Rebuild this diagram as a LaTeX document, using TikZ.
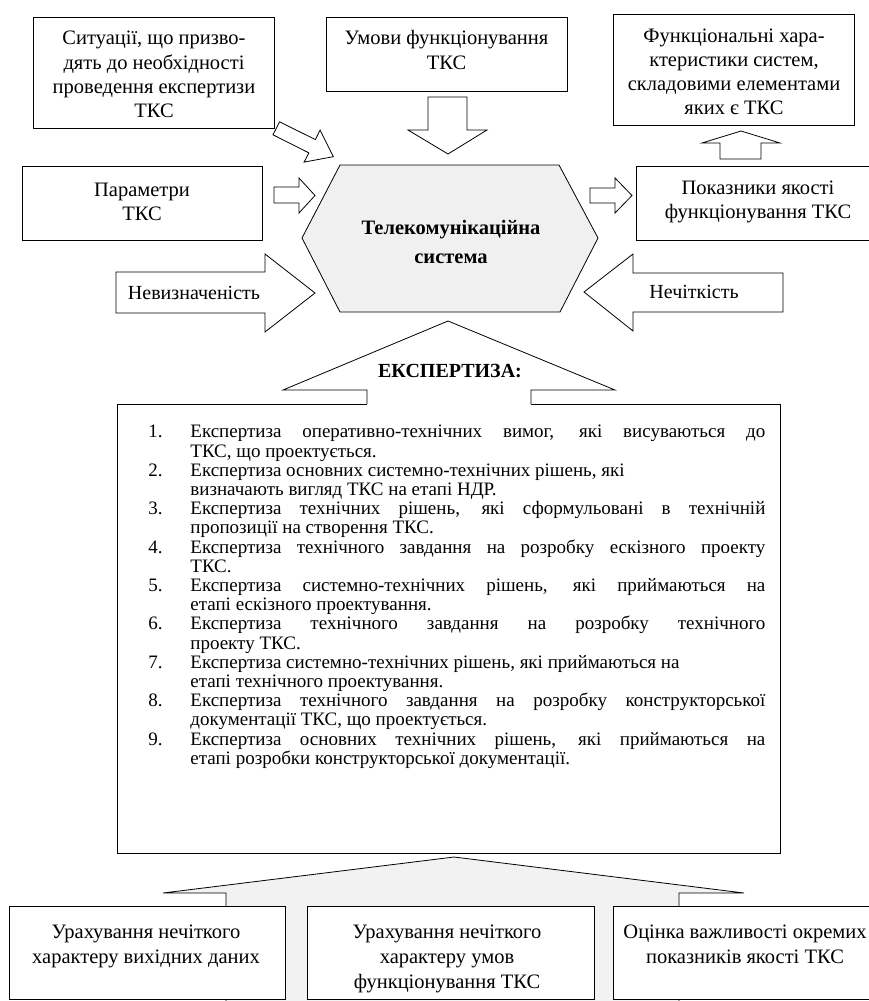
\documentclass[tikz,border=0pt]{standalone}
\usepackage{fontspec}
\setmainfont{Liberation Serif}
\definecolor{hexgray}{RGB}{240,240,240}
\definecolor{arrgray}{RGB}{242,242,242}
\newcommand\Ljust[2]{\makebox[42pt][l]{#1}\makebox[575pt][s]{#2}}
\newcommand\Lnat[2]{\makebox[42pt][l]{#1}#2}
\begin{document}
\begin{tikzpicture}[x=1pt,y=-1pt,line width=0.8pt,line join=miter,
  box/.style={draw,fill=white,inner sep=0pt},
  txt/.style={inner sep=0pt,align=center,font=\fontsize{20.5}{24.2}\selectfont},
  blk/.style={draw,fill=white}]
\useasboundingbox (0,0) rectangle (869,1001);
\clip (0,0) rectangle (869,1001);

% top boxes
\node[box,minimum width=241pt,minimum height=111pt] (sit) at (153.5,72.5) {};
\node[txt] (sitt) at (154,74.5) {Ситуації, що призво-\\дять до необхідності\\проведення експертизи\\ТКС};
\node[box,minimum width=241pt,minimum height=74pt] (umovy) at (446.5,54) {};
\node[txt] (umovyt) at (446.5,50) {Умови функціонування\\ТКС};
\node[box,minimum width=241pt,minimum height=111pt] (func) at (733.5,69.5) {};
\node[txt] (funct) at (734,72) {Функціональні хара-\\ктеристики систем,\\складовими елементами\\яких є ТКС};
\node[box,minimum width=240pt,minimum height=74pt] (param) at (142,203) {};
\node[txt] (paramt) at (142,202) {Параметри\\ТКС};
\node[box,minimum width=250pt,minimum height=74pt] (pokaz) at (761,203) {};
\node[txt] (pokazt) at (758,202) {Показники якості\\функціонування ТКС};

% hexagon
\draw[fill=hexgray] (340,165) -- (559,165) -- (598,238) -- (560,312) -- (340,312) -- (302,238) -- cycle;
\node[inner sep=0pt,align=center,font=\bfseries\fontsize{20.5}{28.5}\selectfont] (hex) at (451,242)
  {Телекомунікаційна\\система};

% block arrows around hexagon
\draw[blk] (428,97) -- (467,97) -- (467,130) -- (487,130) -- (448,154) -- (408,130) -- (428,130) -- cycle;
\draw[blk] (720,159) -- (720,143) -- (702,143) -- (741,131) -- (780,143) -- (761,143) -- (761,159) -- cycle;
\draw[blk] (274,187) -- (299,187) -- (299,178) -- (315,195.5) -- (299,213) -- (299,203) -- (274,203) -- cycle;
\draw[blk] (590,188) -- (615,188) -- (615,178) -- (632,195.5) -- (615,213) -- (615,203) -- (590,203) -- cycle;
\draw[blk] (279.6,121.8) -- (315.4,139.6) -- (320.1,130.1) -- (333.3,156.7) -- (304.1,162.1) -- (308.9,152.9) -- (273.0,134.8) -- cycle;
\draw[blk] (116,272) -- (265,272) -- (265,254) -- (315,293) -- (265,332) -- (265,313) -- (116,313) -- cycle;
\node[txt,font=\fontsize{20}{24}\selectfont] (nev) at (194,293) {Невизначеність};
\draw[blk] (783,273) -- (633,273) -- (633,254) -- (584,292) -- (633,331) -- (633,312) -- (783,312) -- cycle;
\node[txt,font=\fontsize{20}{24}\selectfont] (nech) at (694,292) {Нечіткість};

% expertise box
\node[draw,fill=white,minimum width=663pt,minimum height=449pt,inner sep=0pt] (exp) at (448.5,628.5) {};
\fill[white] (367,406) -- (367,390) -- (283,390) -- (448,321) -- (615,390) -- (531,390) -- (531,406) -- cycle;
\draw (367,404) -- (367,390) -- (283,390) -- (448,321) -- (615,390) -- (531,390) -- (531,404);
\node[inner sep=0pt,font=\bfseries\fontsize{20}{24}\selectfont] (exptitle) at (450,371) {ЕКСПЕРТИЗА:};

\node[inner sep=0pt,anchor=north west,align=left,font=\fontsize{19}{19.2}\selectfont] (list) at (148,425) {%
\Ljust{1.}{Експертиза оперативно-технічних вимог, які висуваються до}\\
\Lnat{}{ТКС, що проектується.}\\
\Lnat{2.}{Експертиза основних системно-технічних рішень, які}\\
\Lnat{}{визначають вигляд ТКС на етапі НДР.}\\
\Ljust{3.}{Експертиза технічних рішень, які сформульовані в технічній}\\
\Lnat{}{пропозиції на створення ТКС.}\\
\Ljust{4.}{Експертиза технічного завдання на розробку ескізного проекту}\\
\Lnat{}{ТКС.}\\
\Ljust{5.}{Експертиза системно-технічних рішень, які приймаються на}\\
\Lnat{}{етапі ескізного проектування.}\\
\Ljust{6.}{Експертиза технічного завдання на розробку технічного}\\
\Lnat{}{проекту ТКС.}\\
\Lnat{7.}{Експертиза системно-технічних рішень, які приймаються на}\\
\Lnat{}{етапі технічного проектування.}\\
\Ljust{8.}{Експертиза технічного завдання на розробку конструкторської}\\
\Lnat{}{документації ТКС, що проектується.}\\
\Ljust{9.}{Експертиза основних технічних рішень, які приймаються на}\\
\Lnat{}{етапі розробки конструкторської документації.}};

% bottom arrow
\fill[arrgray] (454,857) -- (744,893) -- (679,893) -- (679,1001) -- (226,1001) -- (226,893) -- (163,893) -- cycle;
\draw (226,1001) -- (226,893) -- (163,893) -- (454,857) -- (744,893) -- (679,893) -- (679,1001);

% bottom boxes
\node[box,minimum width=276pt,minimum height=93pt] (b1) at (147,952.5) {};
\node[txt,anchor=north,font=\fontsize{20.5}{25}\selectfont] (b1t) at (146,925) {Урахування нечіткого\\характеру вихідних даних};
\node[box,minimum width=287pt,minimum height=93pt] (b2) at (450.5,952.5) {};
\node[txt,anchor=north,font=\fontsize{20.5}{25}\selectfont] (b2t) at (447,925) {Урахування нечіткого\\характеру умов\\функціонування ТКС};
\node[box,minimum width=272pt,minimum height=93pt] (b3) at (749,952.5) {};
\node[txt,anchor=north,font=\fontsize{20.5}{25}\selectfont] (b3t) at (745,925) {Оцінка важливості окремих\\показників якості ТКС};
\end{tikzpicture}
\end{document}
